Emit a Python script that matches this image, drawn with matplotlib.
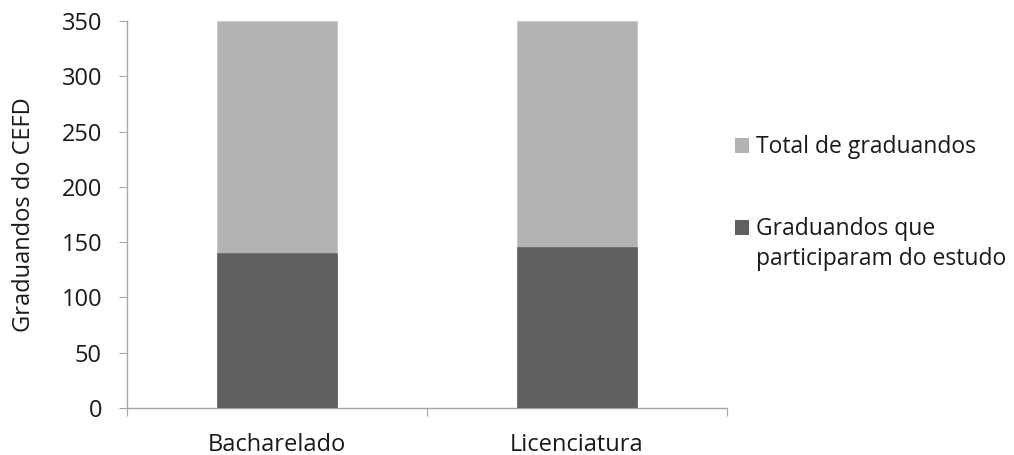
import matplotlib
matplotlib.use('Agg')

import matplotlib.pyplot as plt
from matplotlib.patches import Rectangle

categories = ['Bacharelado', 'Licenciatura']
total = [350, 350]
participantes = [140, 146]
yticks = [0, 50, 100, 150, 200, 250, 300, 350]
legend_labels = ['Total de graduandos', ['Graduandos que', 'participaram do estudo']]

light = '#b3b3b3'
dark = '#606060'
axcol = '#a6a6a6'
txtcol = '#1a1a1a'
W, H = 1014, 455

plt.rcParams['font.family'] = ['Open Sans', 'DejaVu Sans']

fig = plt.figure(figsize=(W / 100, H / 100), dpi=100)
ax = fig.add_axes([127 / W, 1 - 408 / H, 600 / W, 387 / H])

x = range(len(categories))
ax.bar(x, total, width=0.4, color=light, edgecolor='#c8c8c8', linewidth=0.6, zorder=2)
ax.bar(x, participantes, width=0.4, color=dark, edgecolor='#6e6e6e', linewidth=0.6, zorder=3)

ax.set_xlim(-0.5, 1.5)
ax.set_ylim(0, 350)
ax.set_yticks(yticks)
# category borders get the tick marks, names sit between them
ax.set_xticks([-0.5, 0.5, 1.5])
ax.set_xticklabels(['', '', ''])
ax.set_xticks([0, 1], minor=True)
ax.set_xticklabels(categories, minor=True)
ax.tick_params(axis='x', which='minor', length=0, pad=18, labelsize=17, colors=txtcol)
ax.tick_params(axis='x', which='major', length=6, direction='out', color=axcol)
ax.tick_params(axis='y', length=6, direction='out', color=axcol, labelsize=17,
               labelcolor=txtcol, pad=12)

for s in ['top', 'right']:
    ax.spines[s].set_visible(False)
for s in ['left', 'bottom']:
    ax.spines[s].set_color(axcol)
    ax.spines[s].set_linewidth(1.0)

ax.set_ylabel('Graduandos do CEFD', fontsize=17, color=txtcol, labelpad=18)

# legend drawn by hand so the square lines up with the first text line
def legend_entry(color, lines, baseline_px):
    fig.patches.append(Rectangle((735 / W, 1 - baseline_px / H), 14 / W, 15 / H,
                                 transform=fig.transFigure, facecolor=color,
                                 edgecolor='none'))
    for i, line in enumerate(lines):
        fig.text(756 / W, 1 - (baseline_px + 30 * i) / H, line, fontsize=16.5,
                 color=txtcol, ha='left', va='baseline')

legend_entry(light, [legend_labels[0]], 153)
legend_entry(dark, legend_labels[1], 235)

fig.savefig('out.png', dpi=100)
